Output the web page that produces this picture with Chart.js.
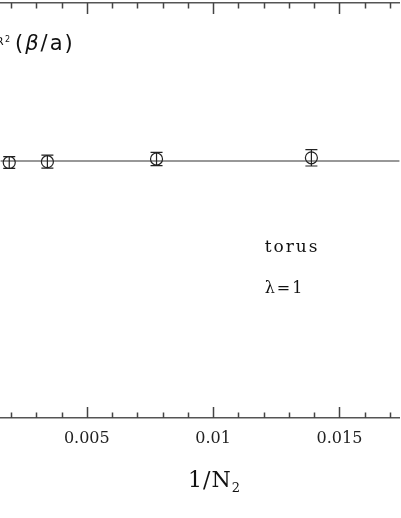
<!DOCTYPE html>
<html>
<head>
<meta charset="utf-8">
<script src="https://cdn.jsdelivr.net/npm/chart.js@4/dist/chart.umd.min.js"></script>
<style>
  body { margin: 0; background: #fff; }
  #wrap { width: 401px; height: 518px; }
</style>
</head>
<body>
<div id="wrap"><canvas id="myChart"></canvas></div>
<script>
// data (y units are arbitrary, the plot shows no y labels)
const invN2 = [0.00193, 0.00344, 0.00776, 0.01389];
const r2 = [2.555, 2.563, 2.590, 2.602];
const r2Err = [0.058, 0.065, 0.067, 0.082];

// fitted constant
const fitX = [0, 0.02];
const fitY = [2.57, 2.57];

// ticks
const tickValues = [0.002, 0.003, 0.004, 0.005, 0.006, 0.007, 0.008, 0.009,
                    0.010, 0.011, 0.012, 0.013, 0.014, 0.015, 0.016, 0.017];
const majorTicks = [0.005, 0.010, 0.015];
const majorLabels = ['0.005', '0.01', '0.015'];

const XMIN = 0.001587, XMAX = 0.017374;
const YMIN = 0, YMAX = 4.15;

function majorIndex(v) {
  return majorTicks.findIndex(m => Math.abs(m - v) < 1e-9);
}

// error bars, inward tick marks and the text labels
const decorations = {
  id: 'decorations',
  afterDatasetsDraw(chart) {
    const ctx = chart.ctx;
    const x = chart.scales.x, y = chart.scales.y;
    const area = chart.chartArea;
    ctx.save();
    ctx.strokeStyle = '#222';
    ctx.lineWidth = 1.2;
    invN2.forEach((v, i) => {
      const px = x.getPixelForValue(v);
      const top = y.getPixelForValue(r2[i] + r2Err[i]);
      const bot = y.getPixelForValue(r2[i] - r2Err[i]);
      ctx.beginPath();
      ctx.moveTo(px, top); ctx.lineTo(px, bot);
      ctx.moveTo(px - 6, top); ctx.lineTo(px + 6, top);
      ctx.moveTo(px - 6, bot); ctx.lineTo(px + 6, bot);
      ctx.stroke();
    });

    ctx.strokeStyle = '#444';
    ctx.lineWidth = 1.5;
    tickValues.forEach(v => {
      const px = Math.round(x.getPixelForValue(v)) + 0.5;
      const len = majorIndex(v) >= 0 ? 11 : 5.5;
      ctx.beginPath();
      ctx.moveTo(px, area.top); ctx.lineTo(px, area.top + len);
      ctx.moveTo(px, area.bottom); ctx.lineTo(px, area.bottom - len);
      ctx.stroke();
    });

    ctx.fillStyle = '#111';
    ctx.textBaseline = 'alphabetic';
    ctx.textAlign = 'left';

    ctx.font = '17px "DejaVu Serif"';
    ctx.letterSpacing = '2px';
    ctx.fillText('torus', x.getPixelForValue(0.01204), y.getPixelForValue(1.665));
    ctx.font = '16px "DejaVu Serif"';
    ctx.fillText('λ=1', x.getPixelForValue(0.01204), y.getPixelForValue(1.25));

    // y label, cut at the left edge
    ctx.letterSpacing = '0px';
    ctx.font = '11px "DejaVu Sans"';
    ctx.fillText('R', -4, 45);
    ctx.font = '8px "DejaVu Sans"';
    ctx.fillText('2', 5, 42);
    let cx = 15;
    ctx.font = '21px "DejaVu Sans"';
    ctx.letterSpacing = '2px';
    ctx.fillText('(', cx, 50); cx += ctx.measureText('(').width;
    ctx.font = 'italic 21px "DejaVu Sans"';
    ctx.fillText('β', cx, 50); cx += ctx.measureText('β').width;
    ctx.font = '21px "DejaVu Sans"';
    ctx.fillText('/a)', cx, 50);

    // x axis title
    cx = 188;
    ctx.font = '22px "DejaVu Serif"';
    ctx.letterSpacing = '1px';
    ctx.fillText('1/N', cx, 487); cx += ctx.measureText('1/N').width;
    ctx.font = '13px "DejaVu Serif"';
    ctx.fillText('2', cx, 492);
    ctx.restore();
  }
};

const ctx = document.getElementById('myChart');
new Chart(ctx, {
  type: 'scatter',
  data: {
    datasets: [{
      label: 'R2',
      data: invN2.map((v, i) => ({ x: v, y: r2[i] })),
      pointStyle: 'circle',
      pointRadius: 6,
      borderWidth: 1.2,
      borderColor: '#222',
      backgroundColor: 'rgba(0,0,0,0)',
      order: 1
    }, {
      label: 'fit',
      data: fitX.map((v, i) => ({ x: v, y: fitY[i] })),
      showLine: true,
      pointRadius: 0,
      borderWidth: 1.2,
      borderColor: '#333',
      order: 2
    }]
  },
  options: {
    responsive: true,
    maintainAspectRatio: false,
    devicePixelRatio: 1,
    animation: false,
    layout: { padding: 0, autoPadding: false },
    plugins: { legend: { display: false }, tooltip: { enabled: false } },
    scales: {
      x: {
        type: 'linear',
        position: 'bottom',
        min: XMIN,
        max: XMAX,
        afterBuildTicks: scale => { scale.ticks = tickValues.map(v => ({ value: v })); },
        afterFit: scale => { scale.height = 100; },
        grid: { drawOnChartArea: false, drawTicks: false },
        border: { display: true, color: '#555', width: 1.5 },
        ticks: {
          autoSkip: false,
          maxRotation: 0,
          padding: 11,
          color: '#222',
          font: { family: 'DejaVu Serif', size: 16 },
          callback: v => { const k = majorIndex(v); return k >= 0 ? majorLabels[k] : ''; }
        }
      },
      x2: {
        type: 'linear',
        position: 'top',
        min: XMIN,
        max: XMAX,
        afterFit: scale => { scale.height = 3; },
        grid: { drawOnChartArea: false, drawTicks: false },
        border: { display: true, color: '#555', width: 1.5 },
        ticks: { display: false }
      },
      y: {
        display: false,
        min: YMIN,
        max: YMAX
      }
    }
  },
  plugins: [decorations]
});
</script>
</body>
</html>
